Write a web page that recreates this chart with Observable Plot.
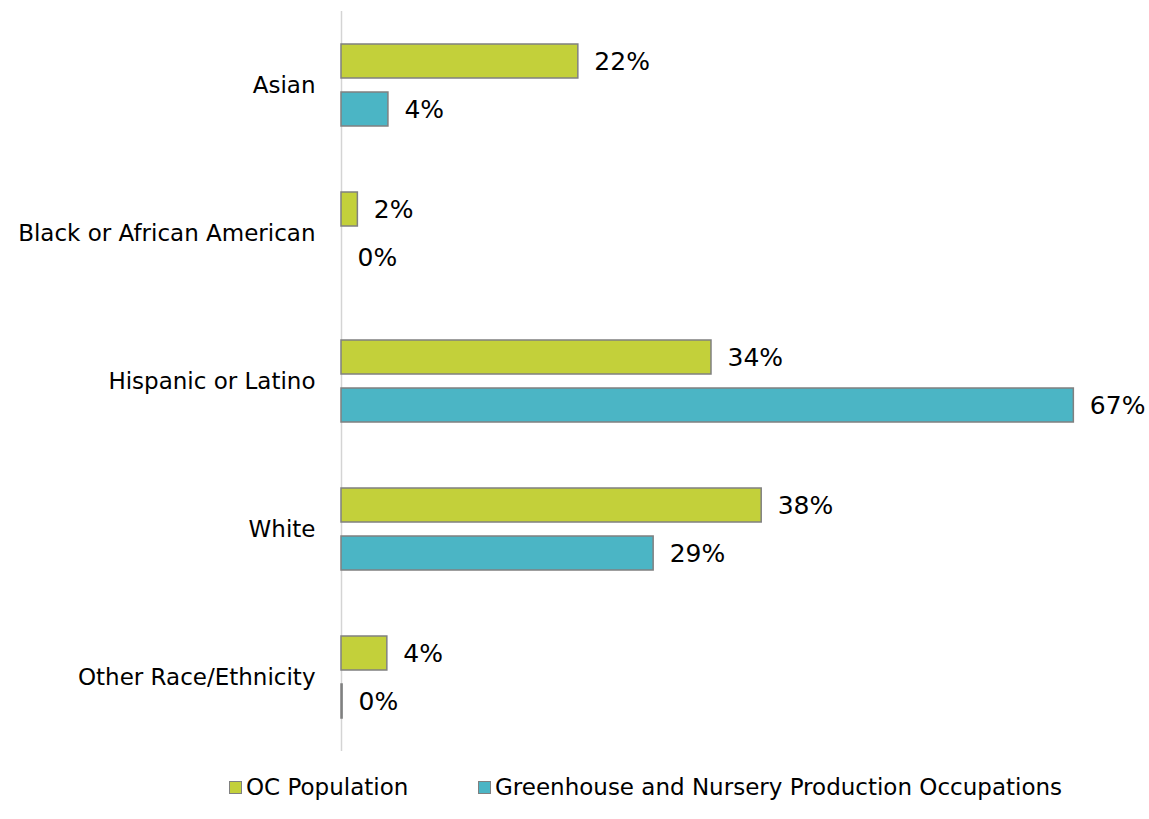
<!DOCTYPE html>
<html>
<head>
<meta charset="utf-8">
<script src="https://cdn.jsdelivr.net/npm/d3@7"></script>
<script src="https://cdn.jsdelivr.net/npm/@observablehq/plot@0.6"></script>
<style>
  body { margin: 0; background: #fff; font-family: "DejaVu Sans", sans-serif; }
  #chart { position: relative; width: 1149px; height: 819px; }
  .legend { position: absolute; left: 0; top: 774px; width: 1149px; height: 26px; font-size: 23px; line-height: 26px; color: #000; }
  .legend .item { position: absolute; top: 0; display: flex; align-items: center; white-space: nowrap; }
  .legend .sw { width: 13px; height: 13px; border: 1.5px solid #808080; margin-right: 4px; box-sizing: border-box; }
</style>
</head>
<body>
<div id="chart"></div>
<script>
const categories = ["Asian", "Black or African American", "Hispanic or Latino", "White", "Other Race/Ethnicity"];
const seriesNames = ["OC Population", "Greenhouse and Nursery Production Occupations"];
const ocPopulation = [21.7, 1.5, 33.9, 38.5, 4.2];
const greenhouse = [4.3, 0, 67.1, 28.6, 0.1];
const ocLabels = ["22%", "2%", "34%", "38%", "4%"];
const greenhouseLabels = ["4%", "0%", "67%", "29%", "0%"];
const colors = ["#C3D03A", "#4BB5C5"];

const rows = [];
categories.forEach((c, i) => {
  rows.push({category: c, series: seriesNames[0], value: ocPopulation[i], label: ocLabels[i]});
  rows.push({category: c, series: seriesNames[1], value: greenhouse[i], label: greenhouseLabels[i]});
});

const plot = Plot.plot({
  width: 1149,
  height: 760,
  marginLeft: 341,
  marginRight: 44,
  marginTop: 10,
  marginBottom: 8,
  style: {fontFamily: "DejaVu Sans, sans-serif", fontSize: "23px", color: "#000", background: "#fff"},
  facet: {data: rows, y: "category"},
  fy: {domain: categories, axis: "left", tickSize: 0, tickPadding: 26, label: null, padding: 0},
  y: {domain: seriesNames, axis: null, paddingInner: 0.29, paddingOuter: 0.67},
  x: {domain: [0, 70], axis: null},
  color: {domain: seriesNames, range: colors},
  marks: [
    Plot.ruleX([0], {stroke: "#d4d4d4", strokeWidth: 1.5}),
    Plot.barX(rows, {x: "value", y: "series", fill: "series", stroke: "#808080", strokeWidth: 1.5}),
    Plot.text(rows, {x: "value", y: "series", text: "label", textAnchor: "start", dx: 16, fontSize: 25, fill: "#000"})
  ]
});
document.getElementById("chart").appendChild(plot);

const legendLeft = [229, 478];
const legend = document.createElement("div");
legend.className = "legend";
seriesNames.forEach((s, i) => {
  const item = document.createElement("div");
  item.className = "item";
  item.style.left = legendLeft[i] + "px";
  const sw = document.createElement("span");
  sw.className = "sw";
  sw.style.background = colors[i];
  const t = document.createElement("span");
  t.textContent = s;
  item.appendChild(sw);
  item.appendChild(t);
  legend.appendChild(item);
});
document.getElementById("chart").appendChild(legend);
</script>
</body>
</html>
